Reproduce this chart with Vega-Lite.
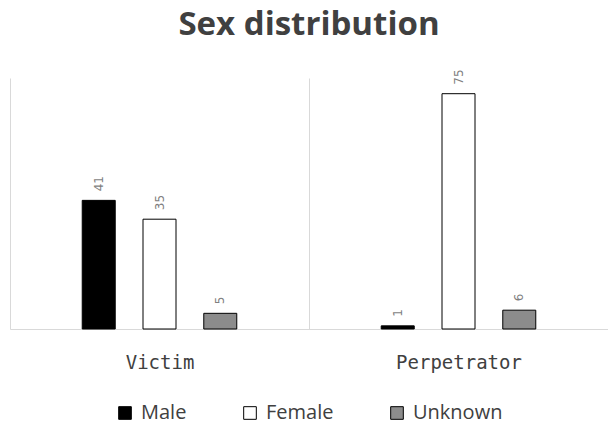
{
  "$schema": "https://vega.github.io/schema/vega-lite/v6.json",
  "width": 598,
  "height": 251,
  "autosize": "none",
  "padding": {"left": 10, "top": 78, "right": 0, "bottom": 96},
  "background": "white",
  "title": {
    "text": "Sex distribution",
    "font": "Open Sans",
    "fontSize": 33,
    "fontWeight": "bold",
    "color": "#404040",
    "anchor": "middle",
    "offset": 27,
    "frame": "group"
  },
  "data": {
    "values": [
      {"group": "Victim", "sex": "Male", "count": 41},
      {"group": "Victim", "sex": "Female", "count": 35},
      {"group": "Victim", "sex": "Unknown", "count": 5},
      {"group": "Perpetrator", "sex": "Male", "count": 1},
      {"group": "Perpetrator", "sex": "Female", "count": 75},
      {"group": "Perpetrator", "sex": "Unknown", "count": 6}
    ]
  },
  "encoding": {
    "x": {
      "field": "group",
      "type": "nominal",
      "sort": ["Victim", "Perpetrator"],
      "scale": {"paddingInner": 0, "paddingOuter": 0},
      "axis": {
        "title": null,
        "labelAngle": 0,
        "labelFont": "DejaVu Sans Mono",
        "labelFontSize": 19,
        "labelColor": "#404040",
        "labelPadding": 24,
        "ticks": false,
        "grid": true,
        "gridColor": "#d9d9d9",
        "tickBand": "extent",
        "domainColor": "#d9d9d9"
      }
    },
    "xOffset": {
      "field": "sex",
      "type": "nominal",
      "sort": ["Male", "Female", "Unknown"],
      "scale": {"paddingInner": 0.08, "paddingOuter": 1}
    },
    "y": {
      "field": "count",
      "type": "quantitative",
      "scale": {"domain": [0, 80]},
      "axis": null
    }
  },
  "layer": [
    {
      "mark": {"type": "bar", "stroke": "black", "strokeWidth": 1, "width": 33},
      "encoding": {
        "fill": {
          "field": "sex",
          "type": "nominal",
          "sort": ["Male", "Female", "Unknown"],
          "scale": {"domain": ["Male", "Female", "Unknown"], "range": ["#000000", "#ffffff", "#8c8c8c"]},
          "legend": {
            "title": null,
            "orient": "none",
            "legendX": 105,
            "legendY": 325,
            "direction": "horizontal",
            "symbolType": "square",
            "symbolSize": 160,
            "symbolStrokeColor": "black",
            "symbolStrokeWidth": 1,
            "labelFont": "Open Sans",
            "labelFontSize": 20,
            "labelColor": "#404040",
            "labelOffset": 6,
            "columnPadding": 53
          }
        }
      }
    },
    {
      "mark": {
        "type": "text",
        "angle": 270,
        "align": "left",
        "baseline": "middle",
        "dx": 9,
        "font": "DejaVu Sans",
        "fontSize": 12,
        "color": "#7f7f7f"
      },
      "encoding": {
        "text": {"field": "count", "type": "quantitative"}
      }
    }
  ],
  "config": {"view": {"stroke": null}}
}
